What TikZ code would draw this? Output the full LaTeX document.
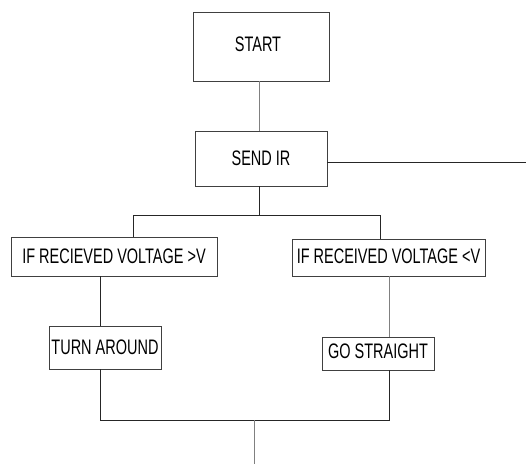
\documentclass[tikz,border=0pt]{standalone}
\usepackage{fontspec}
\setmainfont{Liberation Sans}[FakeStretch=0.69]
\begin{document}
\begin{tikzpicture}[x=1pt,y=-1pt,
  box/.style={draw=black!75, line width=0.9pt, inner sep=0pt, align=center,
    font=\fontsize{21}{21}\selectfont},
  conn/.style={draw=black!85, line width=0.9pt},
  lconn/.style={draw=black!50, line width=1pt}]
\useasboundingbox (0,0) rectangle (526,464);
\node[box, minimum width=136pt, minimum height=69pt] (start) at (261,46.5) {\raisebox{5pt}{START}\hspace*{6pt}};
\node[box, minimum width=132pt, minimum height=55pt] (send) at (261,158.5) {\raisebox{-1pt}{SEND IR}};
\node[box, minimum width=206pt, minimum height=39pt] (c1) at (114,256.5) {IF RECIEVED VOLTAGE >V};
\node[box, minimum width=193pt, minimum height=37pt] (c2) at (388.5,257.5) {\raisebox{2pt}{IF RECEIVED VOLTAGE <V}};
\node[box, minimum width=112pt, minimum height=43pt] (turn) at (105,347.5) {\raisebox{1pt}{TURN AROUND}};
\node[box, minimum width=112pt, minimum height=33pt] (go) at (378,353.5) {\raisebox{4pt}{GO STRAIGHT}};
\coordinate (out) at (526,162);
\coordinate (b1) at (259,215);
\coordinate (jl) at (133,215);
\coordinate (jr) at (380,215);
\coordinate (m1) at (100,420);
\coordinate (m2) at (389,420);
\coordinate (m) at (254,420);
\coordinate (end) at (254,464);
\draw[lconn] (start.south -| b1) -- (send.north -| b1);
\draw[conn] (send.east |- out) -- (out);
\draw[conn] (send.south -| b1) -- (b1);
\draw[conn] (c1.north -| jl) -- (jl) -- (jr) -- (c2.north -| jr);
\draw[conn] (c1.south -| m1) -- (turn.north -| m1);
\draw[lconn] (c2.south -| m2) -- (go.north -| m2);
\draw[conn] (turn.south -| m1) -- (m1) -- (m2) -- (go.south -| m2);
\draw[lconn] (m) -- (end);
\end{tikzpicture}
\end{document}
